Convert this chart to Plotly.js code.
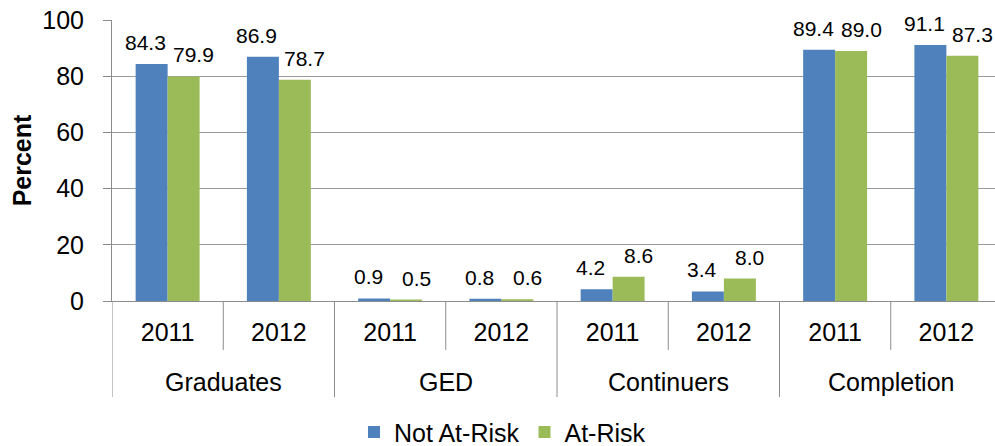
<!DOCTYPE html>
<html>
<head>
<meta charset="utf-8">
<script src="https://cdn.plot.ly/plotly-3.0.1.min.js"></script>
<style>html,body{margin:0;padding:0;background:#fff;}#chart{width:995px;height:446px;}</style>
</head>
<body>
<div id="chart"></div>
<script>
// Data
var groups = ["Graduates", "GED", "Continuers", "Completion"];
var years = ["2011", "2012", "2011", "2012", "2011", "2012", "2011", "2012"];
var notAtRisk = [84.3, 86.9, 0.9, 0.8, 4.2, 3.4, 89.4, 91.1];
var atRisk = [79.9, 78.7, 0.5, 0.6, 8.6, 8.0, 89.0, 87.3];
var seriesNames = ["Not At-Risk", "At-Risk"];
var yTicks = [0, 20, 40, 60, 80, 100];

var FONT = "Liberation Sans, Arial, sans-serif";
var COLORS = ["#4F81BD", "#9BBB59"];
var slots = years.map(function (_, i) { return i; });

function barTrace(vals, name, color) {
  return {
    type: "bar",
    x: slots,
    y: vals,
    name: name,
    marker: { color: color, line: { width: 0 } },
    hoverinfo: "skip"
  };
}

var data = [
  barTrace(notAtRisk, seriesNames[0], COLORS[0]),
  barTrace(atRisk, seriesNames[1], COLORS[1])
];

var shapes = [];
// short dividers between years, long dividers between groups
for (var b = 0; b <= years.length; b++) {
  var isGroup = (b % 2 === 0);
  shapes.push({
    type: "line", xref: "x", yref: "paper",
    x0: b - 0.5, x1: b - 0.5,
    y0: 0, y1: isGroup ? -0.342 : -0.174,
    line: { color: "#8c8c8c", width: 1 }
  });
}

var annotations = groups.map(function (g, gi) {
  return {
    xref: "x", yref: "paper",
    x: gi * 2 + 0.5, y: -0.288,
    text: g, showarrow: false,
    xanchor: "center", yanchor: "middle",
    font: { family: FONT, size: 25, color: "#000" }
  };
});

// value labels above bars (blue nudged left, green nudged right as in the original)
function addLabels(vals, shift) {
  vals.forEach(function (v, i) {
    annotations.push({
      xref: "x", yref: "y",
      x: i, y: v,
      xshift: shift, yshift: 8,
      text: v.toFixed(1), showarrow: false,
      xanchor: "center", yanchor: "bottom",
      font: { family: FONT, size: 21, color: "#000" }
    });
  });
}
addLabels(notAtRisk, -22);
addLabels(atRisk, 26);

var layout = {
  width: 995, height: 446,
  margin: { l: 112, r: 0, t: 20, b: 145, autoexpand: false },
  paper_bgcolor: "#fff", plot_bgcolor: "#fff",
  barmode: "group",
  bargap: 0.425,
  bargroupgap: 0,
  showlegend: true,
  legend: {
    orientation: "h",
    xref: "container", yref: "container",
    x: 0.505, xanchor: "center",
    y: 0.031, yanchor: "middle",
    font: { family: FONT, size: 25, color: "#000" },
    itemsizing: "constant",
    tracegroupgap: 0
  },
  xaxis: {
    range: [-0.5, 7.437],
    tickmode: "array",
    tickvals: slots,
    ticktext: years,
    tickfont: { family: FONT, size: 25, color: "#000" },
    ticks: "",
    ticklabelstandoff: 9,
    showgrid: false,
    zeroline: false,
    showline: true,
    linecolor: "#8c8c8c",
    linewidth: 1,
    automargin: false,
    fixedrange: true
  },
  yaxis: {
    range: [0, 100],
    tickmode: "array",
    tickvals: yTicks,
    ticktext: yTicks.map(String),
    tickfont: { family: FONT, size: 25, color: "#000" },
    ticks: "outside",
    ticklen: 8,
    tickcolor: "#8c8c8c",
    ticklabelstandoff: 14,
    showgrid: true,
    gridcolor: "#9a9a9a",
    gridwidth: 1,
    zeroline: false,
    showline: true,
    linecolor: "#8c8c8c",
    linewidth: 1,
    automargin: false,
    title: { text: "<b>Percent</b>", font: { family: FONT, size: 25, color: "#000" }, standoff: 3 },
    fixedrange: true
  },
  shapes: shapes,
  annotations: annotations
};

Plotly.newPlot("chart", data, layout, { displayModeBar: false, staticPlot: true });
</script>
</body>
</html>
